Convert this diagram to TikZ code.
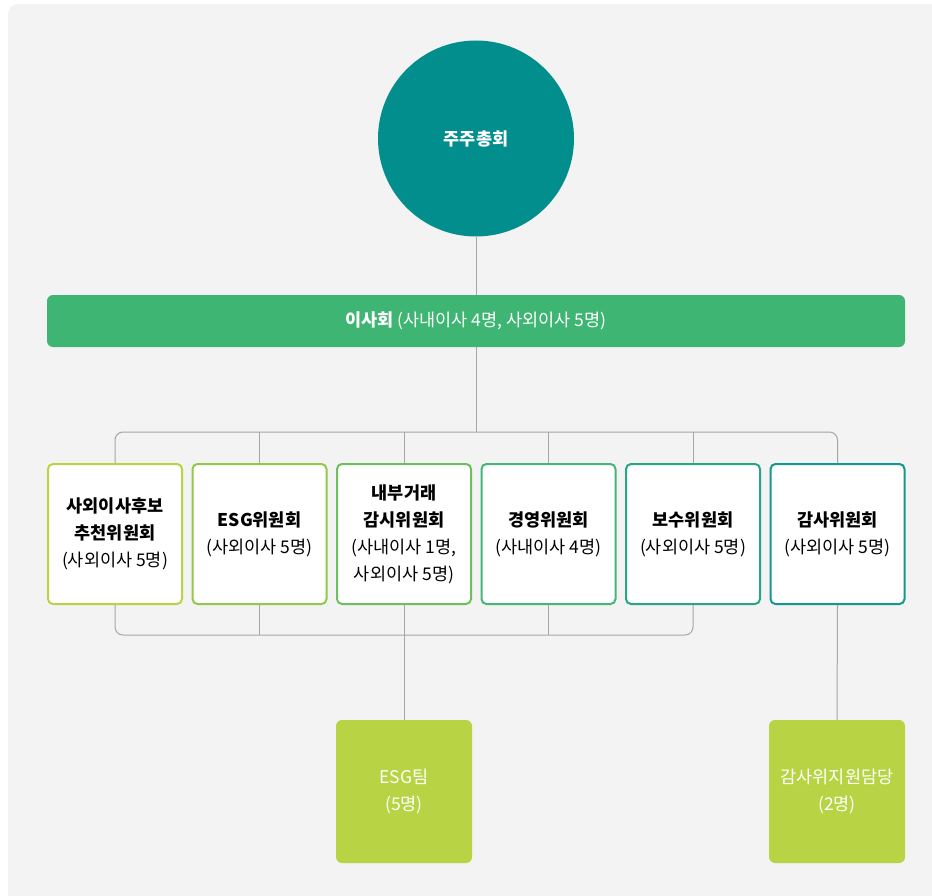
\documentclass[tikz,border=0pt]{standalone}
\usepackage{fontspec}
\setmainfont{Noto Sans CJK KR}
\usepackage{tikz}
\usetikzlibrary{calc}
\definecolor{BgPanel}{HTML}{F3F3F3}
\definecolor{LinkGray}{HTML}{A6A6A6}
\definecolor{Teal}{HTML}{028E8C}
\definecolor{BoardGreen}{HTML}{3FB573}
\definecolor{Lime}{HTML}{B8D344}
\definecolor{EdgeA}{HTML}{B8D344}
\definecolor{EdgeB}{HTML}{93C94B}
\definecolor{EdgeC}{HTML}{6DC05D}
\definecolor{EdgeD}{HTML}{45B677}
\definecolor{EdgeE}{HTML}{27A685}
\definecolor{EdgeF}{HTML}{13978F}

\begin{document}
\begin{tikzpicture}[
        x=1pt, y=-1pt,
        font=\fontsize{17.5}{27}\selectfont,
        committee/.style={
            rounded corners=5pt,
            fill=white,
            line width=2pt,
            minimum width=134pt,
            minimum height=140pt,
            align=center,
            inner sep=2pt
        },
        team/.style={
            rounded corners=6pt,
            fill=Lime,
            text=white,
            minimum width=136pt,
            minimum height=143pt,
            align=center,
            inner sep=2pt
        },
        link/.style={draw=LinkGray, line width=1pt},
        bus/.style={link, rounded corners=8pt}
    ]
        \useasboundingbox (0,0) rectangle (932,896);
        \fill[BgPanel, rounded corners=10pt] (8,4) rectangle (950,910);

        \node[circle, fill=Teal, text=white, minimum size=196pt, inner sep=0pt] (agm) at (476,138.5) {\textbf{주주총회}};
        \node[rounded corners=6pt, fill=BoardGreen, text=white, minimum width=858pt, minimum height=52pt] (board) at (476,321)
            {\textbf{이사회} (사내이사 4명, 사외이사 5명)};

        \node[committee, draw=EdgeA] (nom) at (115,534) {\textbf{사외이사후보}\\\textbf{추천위원회}\\(사외이사 5명)};
        \node[committee, draw=EdgeB] (esg) at (259.5,534) {\textbf{ESG위원회}\\(사외이사 5명)};
        \node[committee, draw=EdgeC] (itr) at (404,534) {\textbf{내부거래}\\\textbf{감시위원회}\\(사내이사 1명,\\사외이사 5명)};
        \node[committee, draw=EdgeD] (mgt) at (548.5,534) {\textbf{경영위원회}\\(사내이사 4명)};
        \node[committee, draw=EdgeE] (pay) at (693,534) {\textbf{보수위원회}\\(사외이사 5명)};
        \node[committee, draw=EdgeF] (aud) at (837.5,534) {\textbf{감사위원회}\\(사외이사 5명)};

        \node[team] (esgteam) at (404,791.5) {ESG팀\\(5명)};
        \node[team] (audteam) at (837,791.5) {감사위지원담당\\(2명)};

        \coordinate (bustop) at (476,432);
        \coordinate (busbot) at (404,635);

        \draw[link] (agm) -- (board);
        \draw[link] (board) -- (bustop);
        \draw[bus] (nom.north) |- (bustop) -| (aud.north);
        \foreach \c in {esg,itr,mgt,pay}
            \draw[link] (\c.north) -- (\c.north |- bustop);

        \draw[bus] (nom.south) |- (busbot) -| (pay.south);
        \foreach \c in {esg,mgt}
            \draw[link] (\c.south) -- (\c.south |- busbot);
        \draw[link] (itr.south) -- (esgteam.north);
        \draw[link] (aud.south) -- (audteam.north);
    \end{tikzpicture}
\end{document}
